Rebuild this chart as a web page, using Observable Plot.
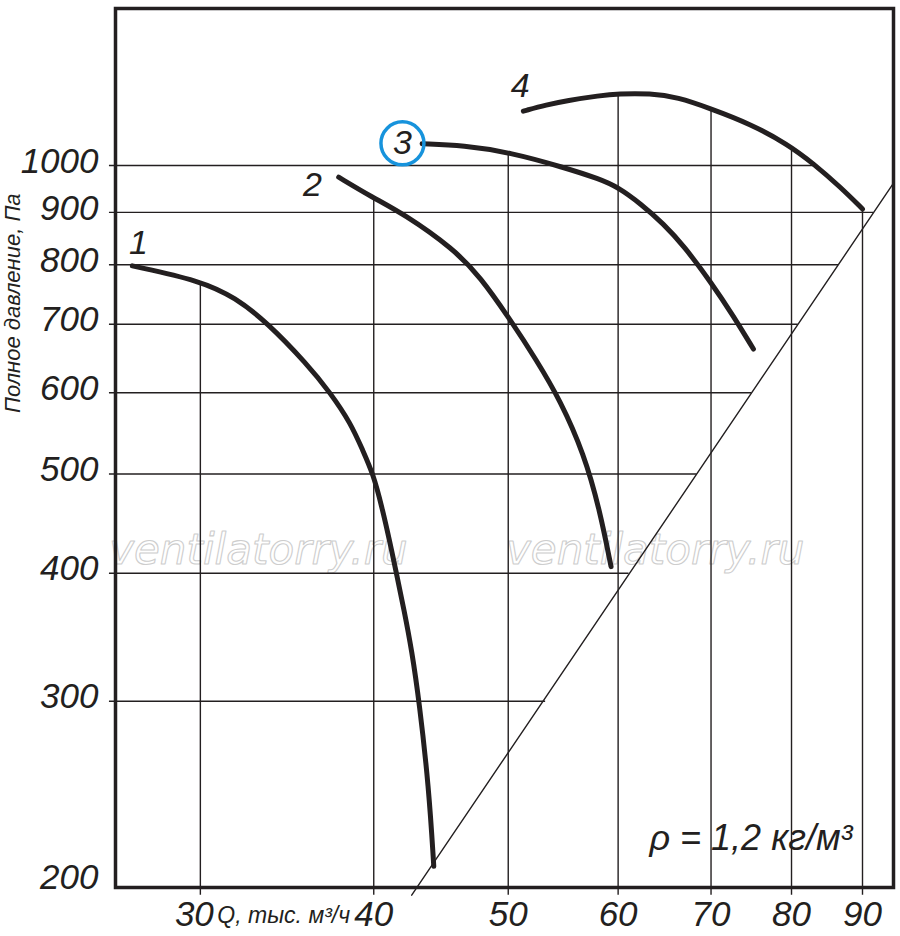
<!DOCTYPE html>
<html><head><meta charset="utf-8">
<script src="https://cdn.jsdelivr.net/npm/d3@7"></script>
<script src="https://cdn.jsdelivr.net/npm/@observablehq/plot@0.6"></script>
<style>html,body{margin:0;padding:0;background:#fff}</style>
</head><body><div id="chart"></div>
<script>
// ---- data (Q in thousand m3/h, P in Pa) ----
const xTicks = [30, 40, 50, 60, 70, 80, 90];
const yTicks = [200, 300, 400, 500, 600, 700, 800, 900, 1000];

const vGridTop = [770, 929, 1028, 1168, 1137, 1037, 908];           // top of vertical grid line per xTick
const hGridP   = [300, 400, 500, 600, 700, 800, 900, 1000];
const hGridEnd = [53.2, 61.1, 68.4, 74.9, 80.9, 86.5, 91.7, 83.0];  // right end of horizontal grid line

const curve1Q = [26.8, 30, 31.8, 33.5, 35.81, 37.22, 38.51, 39.28, 39.96, 40.55, 41.07, 41.53, 42.07, 42.61, 43.13, 43.83, 44.19];
const curve1P = [798, 772, 743, 703, 640, 600, 560, 527, 500, 464, 430, 400, 368, 336, 300, 247, 207];
const curve2Q = [37.74, 39.9, 42.04, 45.67, 47.75, 50.1, 52.43, 54.5, 56.7, 58.2, 59.3];
const curve2P = [974, 931, 897, 829, 778, 709, 645, 590, 523, 461, 406];
const curve3Q = [43.34, 46.44, 50.1, 54.8, 58.2, 60, 62.26, 64.7, 66.9, 70, 72.7, 75.1];
const curve3P = [1050, 1046, 1030, 996, 970, 952, 918, 877, 835, 769, 712, 662];
const curve4Q = [51.27, 53.3, 55.1, 58.2, 60, 63.3, 66.2, 70, 74.7, 79.4, 83.0, 86.8, 90];
const curve4P = [1130, 1146, 1157, 1170, 1175, 1176, 1166, 1136, 1098, 1050, 1004, 952, 907];

const systemQ = [42.6, 94.75];
const systemP = [194, 961];

const curveNames = ["1", "2", "3", "4"];
const labelQ = [27.07, 36.13, 41.95, 51.0];
const labelP = [839, 956, 1051, 1194];

const watermarkText = "ventilatorry.ru";
const watermarkQ = [33.03, 63.8];
const watermarkP = [421, 421];

const densityText = "ρ = 1,2 кг/м³";
const yTitle = "Полное давление, Па";
const xTitle = "Q, тыс. м³/ч";

// ---- build tables ----
const curves = [[curve1Q, curve1P], [curve2Q, curve2P], [curve3Q, curve3P], [curve4Q, curve4P]];
const curveRows = curves.flatMap(([qs, ps], i) => qs.map((q, j) => ({id: curveNames[i], Q: q, P: ps[j]})));
const vGrid = xTicks.map((q, i) => ({Q: q, top: vGridTop[i]}));
const hGrid = hGridP.map((p, i) => ({P: p, end: hGridEnd[i]}));
const system = systemQ.map((q, i) => ({Q: q, P: systemP[i]}));
const labels = curveNames.map((n, i) => ({name: n, Q: labelQ[i], P: labelP[i]}));
const marks3 = labels.filter(d => d.name === "3");
const watermarks = watermarkQ.map((q, i) => ({Q: q, P: watermarkP[i], t: watermarkText}));

const FONT = "'Liberation Sans', Arial, sans-serif";
const INK = "#231f20";
const X0 = 26.06, X1 = 94.75, Y0 = 197.4, Y1 = 1423;

const chart = Plot.plot({
  width: 900, height: 936,
  marginLeft: 115, marginRight: 7, marginTop: 8, marginBottom: 49,
  x: {type: "log", domain: [X0, X1], axis: null},
  y: {type: "log", domain: [Y0, Y1], axis: null},
  style: {fontFamily: FONT, background: "white", overflow: "visible", color: INK},
  marks: [
    Plot.text(watermarks, {x: "Q", y: "P", text: "t", fontSize: 42, fontStyle: "italic",
      fontFamily: "'DejaVu Sans', sans-serif", fill: "none", stroke: "#cdcdcd", strokeWidth: 1.1}),
    Plot.ruleX(vGrid, {x: "Q", y1: 194, y2: "top", stroke: INK, strokeWidth: 1.4}),
    Plot.ruleY(hGrid, {y: "P", x1: 25.8, x2: "end", stroke: INK, strokeWidth: 1.4}),
    Plot.line(system, {x: "Q", y: "P", stroke: INK, strokeWidth: 1.4}),
    Plot.line(curveRows, {x: "Q", y: "P", z: "id", stroke: INK, strokeWidth: 5,
      curve: "basis", strokeLinecap: "round"}),
    Plot.frame({stroke: INK, strokeWidth: 3.5}),
    Plot.text(yTicks, {y: d => d, text: d => String(d), frameAnchor: "left", textAnchor: "end",
      dx: -17, dy: -4, fontSize: 35, fontStyle: "italic", fill: INK}),
    Plot.text(xTicks.filter(d => d !== 30), {x: d => d, text: d => String(d), frameAnchor: "bottom", lineAnchor: "top",
      dy: 14, fontSize: 35, fontStyle: "italic", fill: INK}),
    Plot.text(xTicks.filter(d => d === 30), {x: d => d, text: d => String(d), frameAnchor: "bottom", lineAnchor: "top",
      dx: -6, dy: 14, fontSize: 35, fontStyle: "italic", fill: INK}),
    Plot.text([xTitle], {x: () => 30, text: d => d, frameAnchor: "bottom", textAnchor: "start",
      lineAnchor: "top", dx: 17, dy: 19, fontSize: 23, fontStyle: "italic", fill: INK}),
    Plot.text([yTitle], {text: d => d, frameAnchor: "left", rotate: -90, dx: -103, dy: -35,
      fontSize: 22, fontStyle: "italic", fill: INK}),
    Plot.text(labels, {x: "Q", y: "P", text: "name", fontSize: 34, fontStyle: "italic", fill: INK}),
    Plot.dot(marks3, {x: "Q", y: "P", r: 21.5, stroke: "#1793dc", strokeWidth: 3.5, fill: "none"}),
    Plot.text([densityText], {x: () => 74.8, y: () => 220.4, text: d => d, fontSize: 36,
      fontStyle: "italic", fill: INK})
  ]
});
document.getElementById("chart").append(chart);
</script>
</body></html>
